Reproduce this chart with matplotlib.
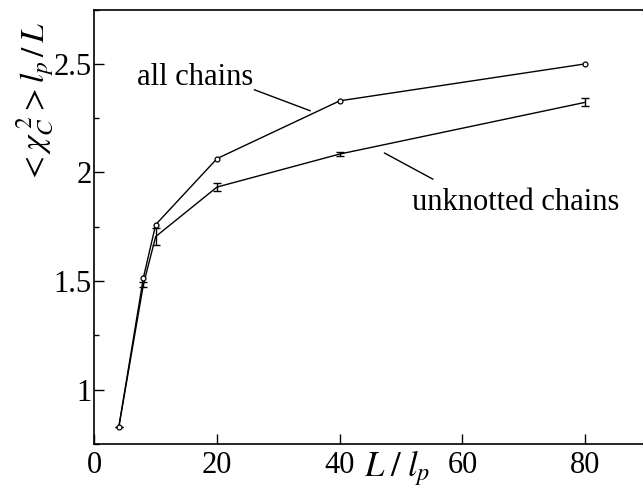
import matplotlib
matplotlib.use("Agg")
import matplotlib.pyplot as plt
from matplotlib.ticker import MultipleLocator

plt.rcParams['font.family'] = ['Liberation Serif', 'DejaVu Serif']
plt.rcParams['mathtext.fontset'] = 'stix'

# data
L_all = [4, 8, 10, 20, 40, 80]
chi_all = [0.83, 1.516, 1.76, 2.064, 2.33, 2.50]

L_unk = [4, 8, 10, 20, 40, 80]
chi_unk = [0.83, 1.485, 1.705, 1.933, 2.085, 2.323]
err_unk = [0.0, 0.011, 0.038, 0.02, 0.011, 0.019]

x_ticks = [0, 20, 40, 60, 80]
y_ticks = [1, 1.5, 2, 2.5]

fig = plt.figure(figsize=(6.43, 4.87), dpi=100)
ax = fig.add_axes([0.1467, 0.0883, 0.8588, 0.892])

ax.plot(L_all, chi_all, color='black', lw=1.0, marker='o', ms=3.5,
        mfc='white', mec='black', mew=0.9, zorder=3)
ax.errorbar(L_unk, chi_unk, yerr=err_unk, color='black', lw=1.0,
            elinewidth=1.0, capsize=3.2, capthick=1.0, zorder=2)

ax.set_xlim(0, 90)
ax.set_ylim(0.75, 2.75)
ax.set_xticks(x_ticks)
ax.set_xticklabels([str(v) for v in x_ticks])
ax.set_yticks(y_ticks)
ax.set_yticklabels(['1', '1.5', '2', '2.5'])
ax.yaxis.set_minor_locator(MultipleLocator(0.25))

ax.tick_params(axis='both', which='major', direction='in', length=7.5,
               width=1.0, labelsize=22)
ax.tick_params(axis='y', which='major', pad=2)
ax.tick_params(axis='x', which='major', pad=5)
ax.tick_params(axis='y', which='minor', direction='in', length=3.8, width=1.0)
for s in ax.spines.values():
    s.set_linewidth(1.2)

# annotations
ax.text(16.4, 2.404, 'all chains', fontsize=22, ha='center', va='baseline')
ax.annotate('', xy=(35.2, 2.284), xytext=(26.07, 2.381),
            arrowprops=dict(arrowstyle='-', color='black', lw=1.0,
                            shrinkA=0, shrinkB=0))
ax.text(68.6, 1.826, 'unknotted chains', fontsize=22, ha='center',
        va='baseline')
ax.annotate('', xy=(55.2, 1.969), xytext=(47.27, 2.09),
            arrowprops=dict(arrowstyle='-', color='black', lw=1.0,
                            shrinkA=0, shrinkB=0))

# axis labels
fig.text(397 / 643, 1 - 468 / 487, r'$L\;/\;l_p$', fontsize=25,
         ha='center', va='center')
fig.text(35 / 643, 1 - 103 / 487, r'$<\chi_C^{\;2}>l_p\,/\,L$', fontsize=24,
         ha='center', va='center', rotation=90)

fig.savefig('out.png', dpi=100)
